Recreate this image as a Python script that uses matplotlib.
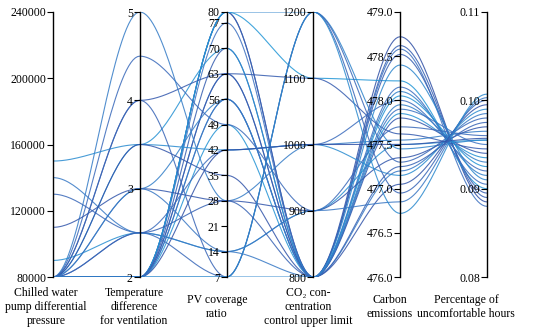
import numpy as np
import matplotlib
matplotlib.use("Agg")
import matplotlib.pyplot as plt
from matplotlib.colors import LinearSegmentedColormap

plt.rcParams['font.family'] = ['Liberation Serif', 'DejaVu Serif']

## Axis names, ranges and ticks
labels = ["Chilled water\npump differential\npressure",
          "Temperature\ndifference\nfor ventilation",
          "PV coverage\nratio",
          "CO\u2082 con-\ncentration\ncontrol upper limit",
          "Carbon\nemissions",
          "Percentage of\nuncomfortable hours"]
lows = [80000, 2, 7, 800, 476.0, 0.08]
highs = [240000, 5, 80, 1200, 479.0, 0.11]
ticks = [[80000, 120000, 160000, 200000, 240000],
         [2, 3, 4, 5],
         [7, 14, 21, 28, 35, 42, 49, 56, 63, 70, 77, 80],
         [800, 900, 1000, 1100, 1200],
         [476.0, 476.5, 477.0, 477.5, 478.0, 478.5, 479.0],
         [0.08, 0.09, 0.10, 0.11]]
tick_fmt = ["%d", "%d", "%d", "%d", "%.1f", "%.2f"]

## Solutions (one value per solution for each axis)
pressure = [80000, 80000, 80000, 80000, 80000, 80000, 80000, 80000, 80000, 80000,
            80000, 80000, 80000, 80000, 80000, 80000, 90000, 110000, 130000, 140000,
            150000, 80000, 80000, 80000, 80000, 80000, 80000, 80000, 80000]
temp_diff = [2, 2, 2, 2, 2, 2, 2, 2, 2, 2,
             2.5, 3, 3.5, 4, 4.5, 5, 2.5, 3, 2.5, 2.5,
             3.5, 3.5, 4, 3, 2, 2, 2.5, 2, 2]
pv_ratio = [80, 80, 77, 80, 80, 70, 63, 56, 49, 63,
            42, 56, 70, 63, 49, 28, 14, 28, 7, 14,
            42, 35, 7, 14, 7, 42, 28, 56, 7]
co2_limit = [800, 800, 800, 1200, 1100, 800, 800, 800, 800, 1100,
             1000, 800, 800, 800, 900, 1000, 900, 900, 1200, 800,
             1000, 800, 1200, 900, 1200, 1000, 800, 800, 800]
carbon = [478.72, 478.62, 478.58, 477.45, 478.22, 478.52, 478.15, 478.10, 478.05, 477.62,
          478.00, 477.95, 477.85, 477.80, 477.70, 477.55, 477.50, 477.35, 477.30, 477.20,
          477.15, 477.05, 476.95, 476.85, 476.72, 477.50, 477.25, 477.90, 478.40]
uncomfortable = [0.0885, 0.0890, 0.0880, 0.0955, 0.0900, 0.0895, 0.0905, 0.0915, 0.0925, 0.0945,
                 0.0920, 0.0930, 0.0935, 0.0940, 0.0960, 0.0965, 0.0955, 0.0970, 0.0980, 0.0985,
                 0.0990, 0.0995, 0.1000, 0.1003, 0.1007, 0.0957, 0.0975, 0.0950, 0.0910]

data = np.array([pressure, temp_diff, pv_ratio, co2_limit, carbon, uncomfortable]).T
n_axes = data.shape[1]

## Figure layout (pixel positions of the axes at 100 dpi)
fig = plt.figure(figsize=(5.5, 3.34), dpi=100)
left, right = 53 / 550, 487 / 550
bottom, top = 1 - 277 / 334, 1 - 12 / 334
width, height = right - left, top - bottom

host = fig.add_axes([left, bottom, width, height])
host.set_xlim(0, n_axes - 1)
host.set_ylim(0, 1)
host.axis('off')

## Normalise and join the axes with smooth curves (flat at every axis)
norm = (data - np.array(lows)) / (np.array(highs) - np.array(lows))
t = np.linspace(0, 1, 40)
s = 3 * t ** 2 - 2 * t ** 3
cmap = LinearSegmentedColormap.from_list("bl", ["#2f4fa5", "#3c70c0", "#2196d6"])
for k, row in enumerate(norm):
    xs, ys = [], []
    for i in range(n_axes - 1):
        xs.append(i + t)
        ys.append(row[i] + (row[i + 1] - row[i]) * s)
    color = cmap((k * 7 % 29) / 28)
    host.plot(np.concatenate(xs), np.concatenate(ys), color=color, lw=0.8, alpha=0.85)

## One thin axes per dimension to carry its own scale
for i in range(n_axes):
    ax = fig.add_axes([left + i * width / (n_axes - 1), bottom, 1e-4, height])
    ax.set_ylim(lows[i], highs[i])
    ax.set_yticks(ticks[i])
    ax.set_yticklabels([tick_fmt[i] % v for v in ticks[i]])
    ax.set_xticks([])
    ax.patch.set_alpha(0)
    for side in ['top', 'bottom', 'right']:
        ax.spines[side].set_visible(False)
    ax.spines['left'].set_linewidth(1.0)
    ax.tick_params(axis='y', direction='out', length=4, width=0.8, pad=1,
                   labelsize=8.5, colors='black')

## Axis titles under the plot
label_x = [46, 134, 217, 308, 390, 466]
for i in range(n_axes):
    fig.text(label_x[i] / 550, 1 - 307 / 334, labels[i], ha='center', va='center',
             fontsize=8.5, linespacing=1.25)

plt.savefig("out.png", dpi=100)
plt.close()
